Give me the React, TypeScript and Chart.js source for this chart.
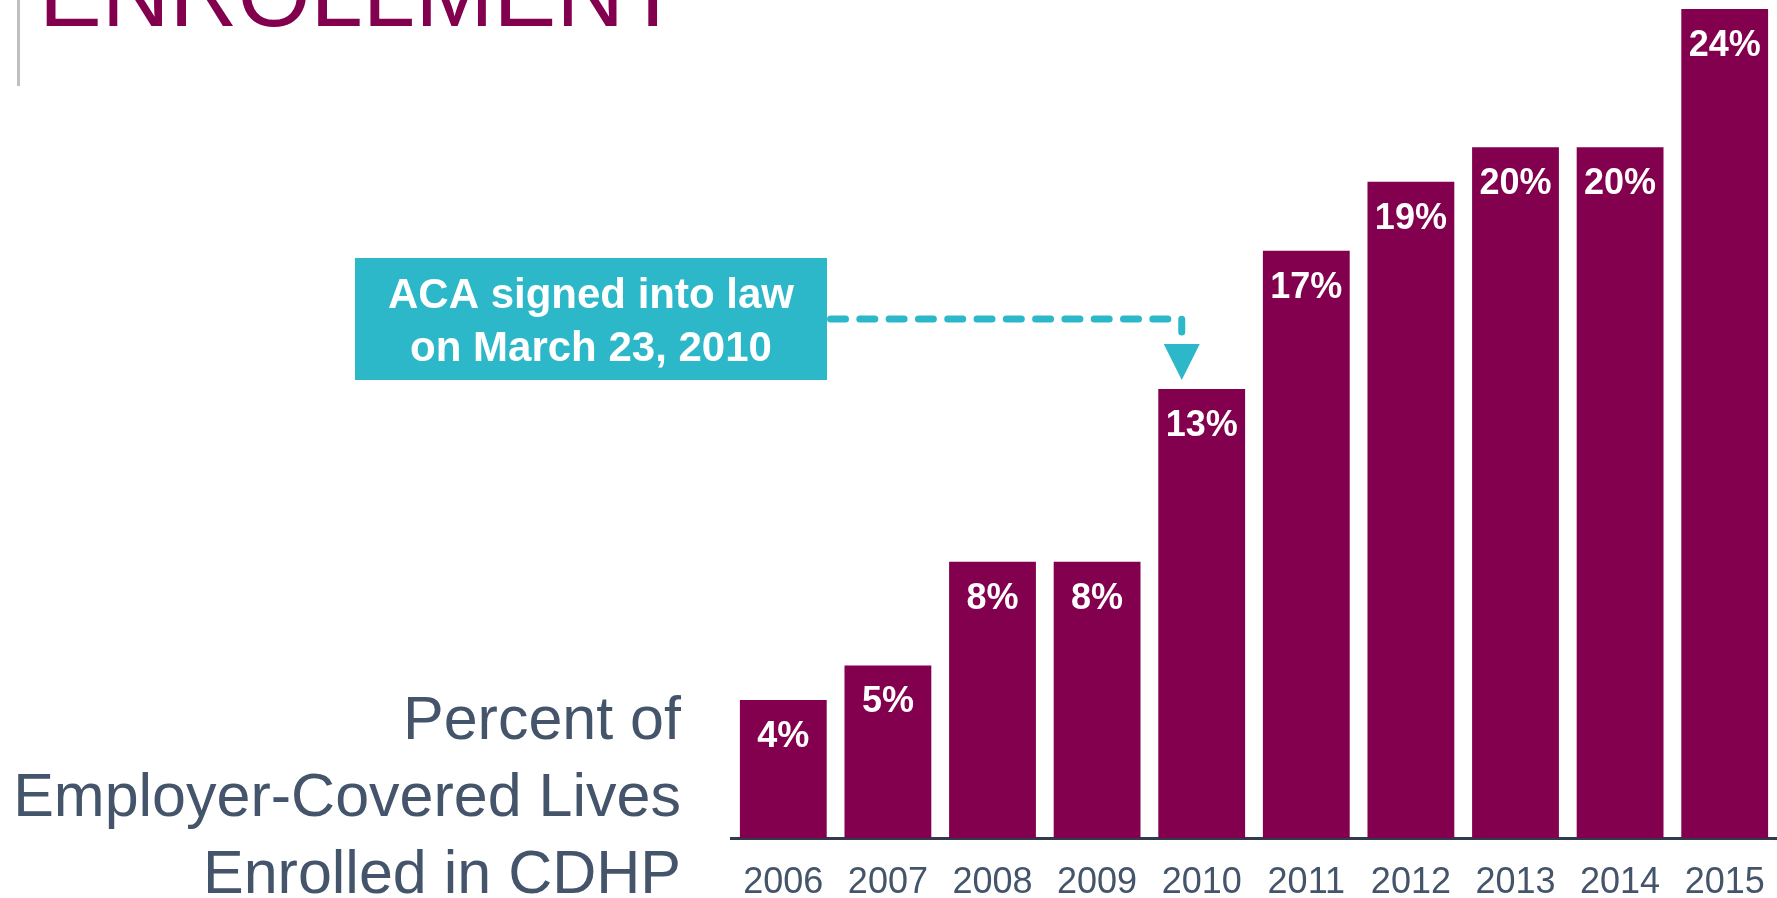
import React, { useEffect, useRef } from "react";
import { Chart, registerables } from "chart.js";

Chart.register(...registerables);

// ---- data ----
const years: string[] = ["2006", "2007", "2008", "2009", "2010", "2011", "2012", "2013", "2014", "2015"];
const percents: number[] = [4, 5, 8, 8, 13, 17, 19, 20, 20, 24];
const yMax = 24;
const titleText = "ENROLLMENT";
const axisTitleLines: string[] = ["Percent of", "Employer-Covered Lives", "Enrolled in CDHP"];
const annotationLines: string[] = ["ACA signed into law", "on March 23, 2010"];
const annotationYear = "2010";

// ---- styles ----
const MAROON = "#82004E";
const TEAL = "#2DB8C9";
const SLATE = "#44546A";
const AXIS = "#303C4D";
const FONT = "'Liberation Sans', Arial, Helvetica, sans-serif";

const valueLabelPlugin = {
  id: "valueLabels",
  afterDatasetsDraw(chart: any) {
    const ctx = chart.ctx;
    const meta = chart.getDatasetMeta(0);
    ctx.save();
    ctx.fillStyle = "#FFFFFF";
    ctx.font = `bold 36px ${FONT}`;
    ctx.textAlign = "center";
    ctx.textBaseline = "alphabetic";
    meta.data.forEach((el: any, i: number) => {
      const p = el.getProps(["x", "y"], true);
      ctx.fillText(`${percents[i]}%`, p.x, p.y + 47);
    });
    ctx.restore();
  },
};

const annotationPlugin = {
  id: "acaAnnotation",
  afterDatasetsDraw(chart: any) {
    const ctx = chart.ctx;
    const meta = chart.getDatasetMeta(0);
    const idx = years.indexOf(annotationYear);
    const el: any = meta.data[idx];
    if (!el) return;
    const p = el.getProps(["x", "y", "width"], true);
    const box = { x: 355, y: 258, w: 472, h: 122 };
    const lineY = 319;
    const arrowX = p.x - p.width * 0.23;
    const tipY = p.y - 9;
    ctx.save();
    ctx.fillStyle = TEAL;
    ctx.fillRect(box.x, box.y, box.w, box.h);
    ctx.fillStyle = "#FFFFFF";
    ctx.font = `bold 42px ${FONT}`;
    ctx.textAlign = "center";
    ctx.textBaseline = "alphabetic";
    const cx = box.x + box.w / 2;
    ctx.fillText(annotationLines[0], cx, 308);
    ctx.fillText(annotationLines[1], cx, 361);
    ctx.strokeStyle = TEAL;
    ctx.lineWidth = 7;
    ctx.lineCap = "round";
    ctx.lineJoin = "round";
    ctx.setLineDash([15, 14.3]);
    ctx.beginPath();
    ctx.moveTo(box.x + box.w + 3.5, lineY);
    ctx.lineTo(arrowX, lineY);
    ctx.lineTo(arrowX, tipY - 48);
    ctx.stroke();
    ctx.setLineDash([]);
    ctx.fillStyle = TEAL;
    ctx.beginPath();
    ctx.moveTo(arrowX - 18, tipY - 36);
    ctx.lineTo(arrowX + 18, tipY - 36);
    ctx.lineTo(arrowX, tipY);
    ctx.closePath();
    ctx.fill();
    ctx.restore();
  },
};

export default function App() {
  const canvasRef = useRef<HTMLCanvasElement | null>(null);

  useEffect(() => {
    if (!canvasRef.current) return;
    const chart = new Chart(canvasRef.current, {
      type: "bar",
      data: {
        labels: years,
        datasets: [
          {
            data: percents,
            backgroundColor: MAROON,
            borderWidth: 0,
            barPercentage: 0.83,
            categoryPercentage: 1,
          },
        ],
      },
      options: {
        responsive: false,
        animation: false,
        devicePixelRatio: 1,
        layout: { padding: { left: 731, right: 0, top: 9, bottom: 0 } },
        plugins: {
          legend: { display: false },
          tooltip: { enabled: false },
          title: { display: false },
        },
        scales: {
          x: {
            grid: { display: false, drawTicks: false },
            border: { display: true, color: AXIS, width: 3 },
            ticks: {
              color: SLATE,
              font: { family: FONT, size: 36, lineHeight: 1.8 },
              padding: 12,
              autoSkip: false,
              maxRotation: 0,
              minRotation: 0,
            },
          },
          y: {
            display: false,
            min: 0,
            max: yMax,
          },
        },
      },
      plugins: [valueLabelPlugin, annotationPlugin],
    });
    return () => chart.destroy();
  }, []);

  return (
    <div
      style={{
        position: "fixed",
        left: 0,
        top: 0,
        width: 1777,
        height: 898,
        overflow: "hidden",
        background: "#FFFFFF",
      }}
    >
      <div
        style={{
          position: "absolute",
          left: 17,
          top: 0,
          width: 3,
          height: 86,
          background: "#BFBFBF",
        }}
      />
      <div
        style={{
          position: "absolute",
          left: 39,
          top: -53,
          fontFamily: FONT,
          fontSize: 94,
          lineHeight: "94px",
          color: MAROON,
          whiteSpace: "nowrap",
        }}
      >
        {titleText}
      </div>
      <div
        style={{
          position: "absolute",
          left: 0,
          top: 680,
          width: 681,
          textAlign: "right",
          fontFamily: FONT,
          fontSize: 61,
          lineHeight: "77px",
          color: SLATE,
          whiteSpace: "nowrap",
        }}
      >
        {axisTitleLines.map((l) => (
          <div key={l}>{l}</div>
        ))}
      </div>
      <canvas
        ref={canvasRef}
        width={1777}
        height={927}
        style={{ position: "absolute", left: 0, top: 0, display: "block" }}
      />
    </div>
  );
}
